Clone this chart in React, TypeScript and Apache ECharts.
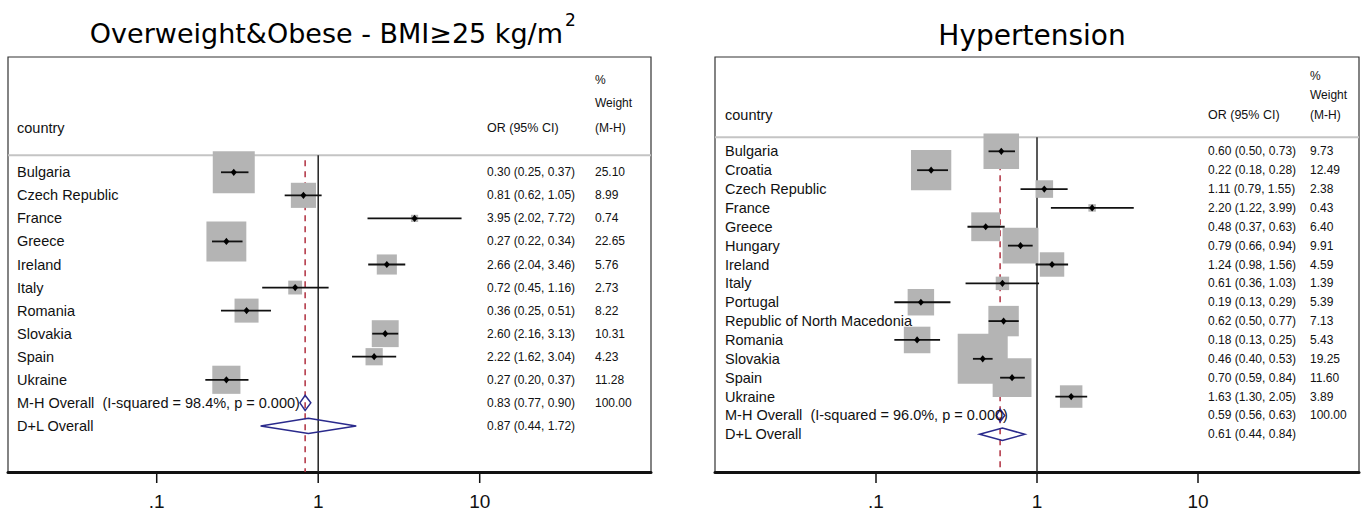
import { useEffect, useRef } from 'react';
import * as echarts from 'echarts';

// ---------------- data ----------------
const LEFT_TITLE = 'Overweight&Obese - BMI≥25 kg/m';
const LEFT_TITLE_SUP = '2';
const RIGHT_TITLE = 'Hypertension';

const LEFT_COUNTRIES = ['Bulgaria', 'Czech Republic', 'France', 'Greece', 'Ireland', 'Italy', 'Romania', 'Slovakia', 'Spain', 'Ukraine'];
const LEFT_OR = [0.30, 0.81, 3.95, 0.27, 2.66, 0.72, 0.36, 2.60, 2.22, 0.27];
const LEFT_LO = [0.25, 0.62, 2.02, 0.22, 2.04, 0.45, 0.25, 2.16, 1.62, 0.20];
const LEFT_HI = [0.37, 1.05, 7.72, 0.34, 3.46, 1.16, 0.51, 3.13, 3.04, 0.37];
const LEFT_WEIGHT = [25.10, 8.99, 0.74, 22.65, 5.76, 2.73, 8.22, 10.31, 4.23, 11.28];
const LEFT_MH = [0.83, 0.77, 0.90];
const LEFT_MH_WEIGHT = 100.0;
const LEFT_MH_I2 = '98.4%';
const LEFT_MH_P = '0.000';
const LEFT_DL = [0.87, 0.44, 1.72];

const RIGHT_COUNTRIES = ['Bulgaria', 'Croatia', 'Czech Republic', 'France', 'Greece', 'Hungary', 'Ireland', 'Italy', 'Portugal', 'Republic of North Macedonia', 'Romania', 'Slovakia', 'Spain', 'Ukraine'];
const RIGHT_OR = [0.60, 0.22, 1.11, 2.20, 0.48, 0.79, 1.24, 0.61, 0.19, 0.62, 0.18, 0.46, 0.70, 1.63];
const RIGHT_LO = [0.50, 0.18, 0.79, 1.22, 0.37, 0.66, 0.98, 0.36, 0.13, 0.50, 0.13, 0.40, 0.59, 1.30];
const RIGHT_HI = [0.73, 0.28, 1.55, 3.99, 0.63, 0.94, 1.56, 1.03, 0.29, 0.77, 0.25, 0.53, 0.84, 2.05];
const RIGHT_WEIGHT = [9.73, 12.49, 2.38, 0.43, 6.40, 9.91, 4.59, 1.39, 5.39, 7.13, 5.43, 19.25, 11.60, 3.89];
const RIGHT_MH = [0.59, 0.56, 0.63];
const RIGHT_MH_WEIGHT = 100.0;
const RIGHT_MH_I2 = '96.0%';
const RIGHT_MH_P = '0.000';
const RIGHT_DL = [0.61, 0.44, 0.84];

const TICK_VALUES = [0.1, 1, 10];
const TICK_LABELS = ['.1', '1', '10'];

const HEADER_PCT = '%';
const HEADER_WEIGHT = 'Weight';
const HEADER_MH = '(M-H)';
const HEADER_COUNTRY = 'country';
const HEADER_OR = 'OR (95% CI)';

// ---------------- styles ----------------
const FONT_TEXT = 'Liberation Sans, Arial, sans-serif';
const FONT_TITLE = 'DejaVu Sans, sans-serif';
const TEXT_COLOR = '#111';
const BOX_COLOR = '#b4b4b4';
const DIAMOND_COLOR = '#2a2a8c';
const DASH_COLOR = '#b03040';

const fmtCI = (o: number, l: number, h: number) => `${o.toFixed(2)} (${l.toFixed(2)}, ${h.toFixed(2)})`;

type Panel = {
  names: string[]; or: number[]; lo: number[]; hi: number[]; w: number[];
  mh: number[]; mhW: number; i2: string; p: string; dl: number[];
  grid: { left: number; top: number; width: number; height: number };
  xRange: [number, number];
  boxK: number; colCountry: number; colOR: number; colW: number;
};

const PANELS: Panel[] = [
  {
    names: LEFT_COUNTRIES, or: LEFT_OR, lo: LEFT_LO, hi: LEFT_HI, w: LEFT_WEIGHT,
    mh: LEFT_MH, mhW: LEFT_MH_WEIGHT, i2: LEFT_MH_I2, p: LEFT_MH_P, dl: LEFT_DL,
    grid: { left: 8, top: 57, width: 643, height: 415 },
    xRange: [0.012, 115],
    boxK: 8.38, colCountry: 9, colOR: 479, colW: 587,
  },
  {
    names: RIGHT_COUNTRIES, or: RIGHT_OR, lo: RIGHT_LO, hi: RIGHT_HI, w: RIGHT_WEIGHT,
    mh: RIGHT_MH, mhW: RIGHT_MH_WEIGHT, i2: RIGHT_MH_I2, p: RIGHT_MH_P, dl: RIGHT_DL,
    grid: { left: 715, top: 57, width: 644, height: 415 },
    xRange: [0.01, 100],
    boxK: 11.4, colCountry: 10, colOR: 493, colW: 595,
  },
];

const HEADER_LINE_ROW = -0.74;

function txt(x: number, y: number, text: string, size: number, align: string, family = FONT_TEXT) {
  return {
    type: 'text',
    x, y,
    style: {
      text, fill: TEXT_COLOR, fontSize: size, fontFamily: family,
      align, verticalAlign: 'middle', textAlign: align, textVerticalAlign: 'middle',
    },
  };
}

function buildOption() {
  const grids: any[] = [];
  const xAxes: any[] = [];
  const yAxes: any[] = [];
  const series: any[] = [];

  PANELS.forEach((pn, pi) => {
    const n = pn.names.length;
    const yMin = -5;
    const yMax = n + 3;
    grids.push({ ...pn.grid, show: true, borderColor: '#333', borderWidth: 1.2, backgroundColor: 'transparent', containLabel: false });
    xAxes.push({
      type: 'log', logBase: 10, gridIndex: pi, min: pn.xRange[0], max: pn.xRange[1],
      axisLine: { show: true, onZero: false, lineStyle: { color: '#111', width: 3 } },
      axisTick: { show: false }, axisLabel: { show: false }, splitLine: { show: false },
    });
    yAxes.push({
      type: 'value', gridIndex: pi, min: yMin, max: yMax, inverse: true,
      axisLine: { show: false }, axisTick: { show: false }, axisLabel: { show: false }, splitLine: { show: false },
    });

    const base = { type: 'custom', xAxisIndex: pi, yAxisIndex: pi, clip: false, silent: true, encode: { x: 0, y: 1 } };

    // reference lines: header separator, null line, M-H dashed line
    series.push({
      ...base, z: 1,
      data: [[pn.mh[0], HEADER_LINE_ROW]],
      renderItem: (params: any, api: any) => {
        const cs = params.coordSys;
        const yTop = api.coord([1, HEADER_LINE_ROW])[1];
        const yBot = api.coord([1, yMax])[1];
        const x1 = api.coord([1, 0])[0];
        const xm = api.coord([api.value(0), 0])[0];
        return {
          type: 'group', children: [
            { type: 'line', shape: { x1: cs.x, y1: yTop, x2: cs.x + cs.width, y2: yTop }, style: { stroke: '#c4c4c4', lineWidth: 2 } },
            { type: 'line', shape: { x1: x1, y1: yTop, x2: x1, y2: yBot }, style: { stroke: '#222', lineWidth: 1.5 } },
            { type: 'line', shape: { x1: xm, y1: yTop + 5, x2: xm, y2: yBot }, style: { stroke: DASH_COLOR, lineWidth: 1.5, lineDash: [6, 5] } },
          ],
        };
      },
    });

    const studyData = pn.or.map((o, i) => [o, i, pn.lo[i], pn.hi[i], pn.w[i]]);

    // weight boxes
    series.push({
      ...base, z: 2,
      data: studyData,
      renderItem: (_params: any, api: any) => {
        const [cx, cy] = api.coord([api.value(0), api.value(1)]);
        const s = pn.boxK * Math.sqrt(api.value(4));
        return { type: 'rect', shape: { x: cx - s / 2, y: cy - s / 2, width: s, height: s }, style: { fill: BOX_COLOR } };
      },
    });

    // CI lines and point estimates
    series.push({
      ...base, z: 3,
      data: studyData,
      renderItem: (_params: any, api: any) => {
        const row = api.value(1);
        const [cx, cy] = api.coord([api.value(0), row]);
        const xl = api.coord([api.value(2), row])[0];
        const xh = api.coord([api.value(3), row])[0];
        return {
          type: 'group', children: [
            { type: 'line', shape: { x1: xl, y1: cy, x2: xh, y2: cy }, style: { stroke: '#111', lineWidth: 1.8 } },
            { type: 'polygon', shape: { points: [[cx - 3, cy], [cx, cy - 3.6], [cx + 3, cy], [cx, cy + 3.6]] }, style: { fill: '#000' } },
          ],
        };
      },
    });

    // pooled diamonds
    series.push({
      ...base, z: 3,
      data: [[pn.mh[0], n, pn.mh[1], pn.mh[2]], [pn.dl[0], n + 1, pn.dl[1], pn.dl[2]]],
      renderItem: (_params: any, api: any) => {
        const row = api.value(1);
        const [cx, cy] = api.coord([api.value(0), row]);
        const xl = api.coord([api.value(2), row])[0];
        const xh = api.coord([api.value(3), row])[0];
        const h = (api.coord([1, row + 1])[1] - cy) * 0.33;
        return {
          type: 'polygon',
          shape: { points: [[xl, cy], [cx, cy - h], [xh, cy], [cx, cy + h]] },
          style: { fill: 'none', stroke: DIAMOND_COLOR, lineWidth: 1.5 },
        };
      },
    });

    // row texts
    const rowNames = [...pn.names, `M-H Overall  (I-squared = ${pn.i2}, p = ${pn.p})`, 'D+L Overall'];
    const rowOR = [...pn.or.map((o, i) => fmtCI(o, pn.lo[i], pn.hi[i])), fmtCI(pn.mh[0], pn.mh[1], pn.mh[2]), fmtCI(pn.dl[0], pn.dl[1], pn.dl[2])];
    const rowW = [...pn.w.map((v) => v.toFixed(2)), pn.mhW.toFixed(2), ''];
    series.push({
      ...base, z: 5,
      data: rowNames.map((_, i) => [1, i]),
      renderItem: (params: any, api: any) => {
        const cs = params.coordSys;
        const i = params.dataIndex;
        const cy = api.coord([1, api.value(1)])[1];
        return {
          type: 'group', children: [
            txt(cs.x + pn.colCountry, cy, rowNames[i], 14.5, 'left'),
            txt(cs.x + pn.colOR, cy, rowOR[i], 12, 'left'),
            txt(cs.x + pn.colW, cy, rowW[i], 12, 'left'),
          ],
        };
      },
    });

    // header texts
    series.push({
      ...base, z: 5,
      data: [[1, -1.9]],
      renderItem: (params: any, api: any) => {
        const cs = params.coordSys;
        const y4 = api.coord([1, -4])[1];
        const y3 = api.coord([1, -3])[1];
        const y2 = api.coord([1, -1.9])[1];
        return {
          type: 'group', children: [
            txt(cs.x + pn.colCountry, y2, HEADER_COUNTRY, 14.5, 'left'),
            txt(cs.x + pn.colOR, y2, HEADER_OR, 12.5, 'left'),
            txt(cs.x + pn.colW, y4, HEADER_PCT, 12, 'left'),
            txt(cs.x + pn.colW, y3, HEADER_WEIGHT, 12, 'left'),
            txt(cs.x + pn.colW, y2, HEADER_MH, 12, 'left'),
          ],
        };
      },
    });

    // x ticks and labels
    series.push({
      ...base, z: 5,
      data: TICK_VALUES.map((v) => [v, yMax]),
      renderItem: (params: any, api: any) => {
        const [x, y] = api.coord([api.value(0), api.value(1)]);
        return {
          type: 'group', children: [
            { type: 'line', shape: { x1: x, y1: y, x2: x, y2: y + 11 }, style: { stroke: '#111', lineWidth: 1.5 } },
            txt(x, y + 29, TICK_LABELS[params.dataIndex], 19, 'center'),
          ],
        };
      },
    });
  });

  return {
    animation: false,
    backgroundColor: '#fff',
    grid: grids,
    xAxis: xAxes,
    yAxis: yAxes,
    series,
    graphic: [
      {
        type: 'text', x: 563, y: 33,
        style: { text: LEFT_TITLE, fill: '#000', fontSize: 27, fontFamily: FONT_TITLE, align: 'right', verticalAlign: 'middle', textAlign: 'right', textVerticalAlign: 'middle' },
      },
      {
        type: 'text', x: 565, y: 20,
        style: { text: LEFT_TITLE_SUP, fill: '#000', fontSize: 17, fontFamily: FONT_TITLE, align: 'left', verticalAlign: 'middle', textAlign: 'left', textVerticalAlign: 'middle' },
      },
      {
        type: 'text', x: 1032, y: 35,
        style: { text: RIGHT_TITLE, fill: '#000', fontSize: 28, fontFamily: FONT_TITLE, align: 'center', verticalAlign: 'middle', textAlign: 'center', textVerticalAlign: 'middle' },
      },
    ],
  };
}

export default function App() {
  const ref = useRef<HTMLDivElement>(null);
  useEffect(() => {
    if (!ref.current) return;
    const chart = echarts.init(ref.current, null, { renderer: 'svg' });
    chart.setOption(buildOption() as any);
    return () => chart.dispose();
  }, []);
  return <div ref={ref} style={{ position: 'fixed', left: 0, top: 0, width: '1362px', height: '511px' }} />;
}
